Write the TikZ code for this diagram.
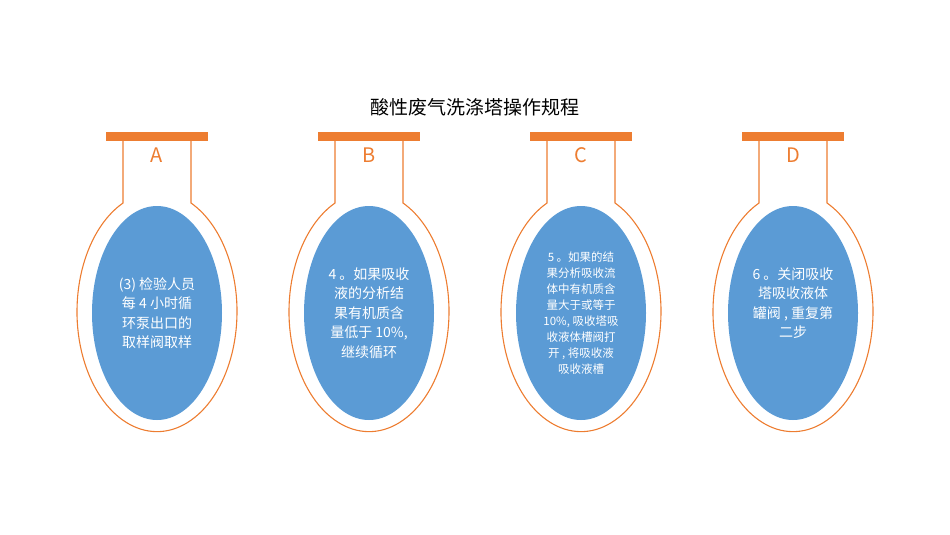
\documentclass[tikz,border=0pt]{standalone}
\usepackage{fontspec}
\setmainfont{Noto Sans CJK SC}
\definecolor{orng}{RGB}{237,125,49}
\definecolor{blu}{RGB}{91,155,213}
\begin{document}
\begin{tikzpicture}[x=1pt,y=-1pt,
  bar/.style={fill=orng,draw=none},
  flask/.style={draw=orng,line width=1.1pt},
  bulb/.style={fill=blu,draw=none},
  letter/.style={text=orng,font=\fontsize{20}{20}\selectfont},
  body/.style={text=white,align=center,font=\fontsize{14}{19.5}\selectfont}]
\useasboundingbox (0,0) rectangle (950,535);
\node (title) at (475,107) {\fontsize{19}{19}\selectfont 酸性废气洗涤塔操作规程};
\foreach \c/\L/\n in {157/A/a,369/B/b,581/C/c,793/D/d}{
  \fill[bar] (\c-51,132) rectangle (\c+51,141);
  \draw[flask] (\c-34,141) -- (\c-34,203) arc[x radius=80,y radius=120,start angle=244.85,end angle=-64.85] -- (\c+34,141);
  \fill[bulb] (\c,313) ellipse[x radius=65,y radius=107];
  \node[letter] (l\n) at (\c,155) {\L};
}
\node[body] (ta) at (157,313) {(3) 检验人员\\每 4 小时循\\环泵出口的\\取样阀取样};
\node[body] (tb) at (369,313) {4 。如果吸收\\液的分析结\\果有机质含\\量低于 10\%,\\继续循环};
\node[body,font=\fontsize{11.5}{16}\selectfont] (tc) at (581,313) {5 。如果的结\\果分析吸收流\\体中有机质含\\量大于或等于\\10\%, 吸收塔吸\\收液体槽阀打\\开 , 将吸收液\\吸收液槽};
\node[body] (td) at (793,303) {6 。关闭吸收\\塔吸收液体\\罐阀 , 重复第\\二步};
\end{tikzpicture}
\end{document}
